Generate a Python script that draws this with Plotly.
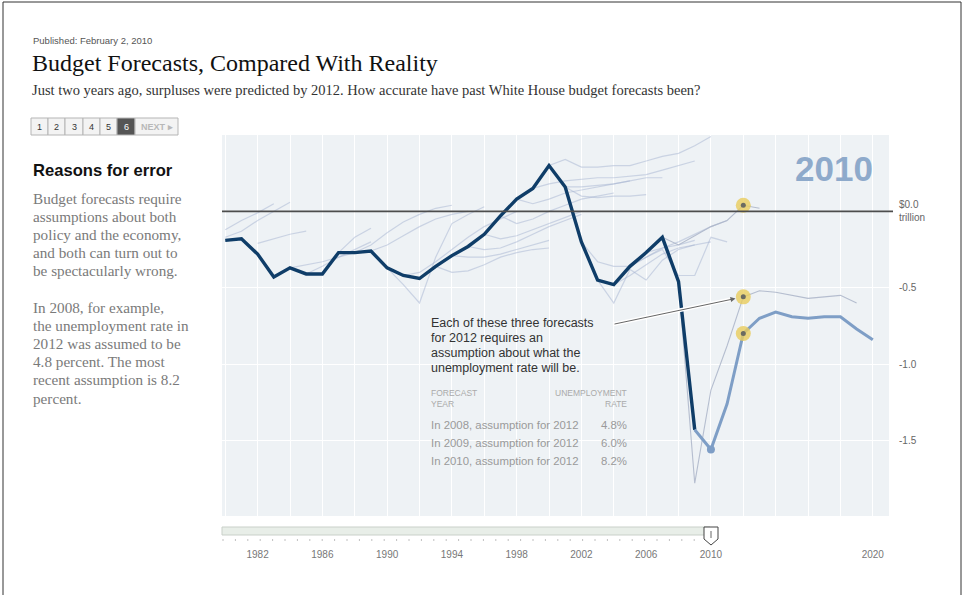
import plotly.graph_objects as go

# ---------------- data ----------------
actual_years = list(range(1980, 2010))
actual_values = [-0.19, -0.18, -0.28, -0.43, -0.37, -0.41, -0.41, -0.27, -0.27, -0.26,
                 -0.37, -0.42, -0.44, -0.36, -0.29, -0.23, -0.15, -0.03, 0.08, 0.15,
                 0.30, 0.16, -0.20, -0.45, -0.48, -0.36, -0.27, -0.17, -0.46, -1.43]

forecast_2010_years = list(range(2009, 2021))
forecast_2010_values = [-1.43, -1.56, -1.26, -0.80, -0.70, -0.66, -0.69, -0.70, -0.69, -0.69, -0.77, -0.84]

forecast_2009_years = list(range(2008, 2020))
forecast_2009_values = [-0.46, -1.78, -1.17, -0.88, -0.56, -0.52, -0.53, -0.55, -0.57, -0.56, -0.55, -0.60]

forecast_2008_years = list(range(2007, 2014))
forecast_2008_values = [-0.17, -0.22, -0.16, -0.10, -0.06, 0.04, 0.02]

# older forecasts: first year of each, then values year by year
past_forecast_starts = [1980, 1980, 1982, 1984, 1985, 1987, 1988, 1989, 1990, 1991,
                        1993, 1994, 1995, 1996, 1997, 1998, 1999, 2000, 2001, 2001,
                        2002, 2003, 2004, 2005, 2006]
past_forecast_values = [
    [-0.12, -0.06, -0.01, 0.05],
    [-0.17, -0.13, -0.06, 0.00, 0.06],
    [-0.21, -0.18, -0.15, -0.13],
    [-0.37, -0.35, -0.33, -0.30, -0.27],
    [-0.41, -0.36, -0.30, -0.25, -0.20],
    [-0.27, -0.17, -0.11],
    [-0.27, -0.22, -0.14, -0.07, -0.02, 0.02, 0.04],
    [-0.26, -0.22, -0.16, -0.10, -0.05, -0.02, 0.00],
    [-0.37, -0.48, -0.60, -0.30, -0.08, -0.02, 0.03],
    [-0.42, -0.40, -0.33, -0.25, -0.17, -0.10, -0.05, 0.00],
    [-0.36, -0.40, -0.39, -0.35, -0.30, -0.27, -0.25, -0.24],
    [-0.29, -0.30, -0.30, -0.28, -0.25, -0.22, -0.19],
    [-0.23, -0.25, -0.24, -0.20, -0.15, -0.10, -0.06, -0.02],
    [-0.15, -0.18, -0.16, -0.12, -0.08, -0.04, 0.00],
    [-0.03, -0.08, -0.05, 0.00, 0.04, 0.08, 0.10, 0.12],
    [0.08, 0.05, 0.08, 0.12, 0.14, 0.16, 0.18, 0.20],
    [0.15, 0.18, 0.20, 0.21, 0.22, 0.22, 0.23, 0.24, 0.27, 0.30, 0.33],
    [0.30, 0.34, 0.29, 0.29, 0.30, 0.30, 0.33, 0.36, 0.38, 0.43, 0.49],
    [0.16, 0.10, 0.09, 0.10, 0.10, 0.11],
    [0.16, 0.16, 0.17, 0.18, 0.20, 0.22, 0.22],
    [-0.20, -0.33, -0.36, -0.36, -0.30, -0.24, -0.22, -0.19],
    [-0.45, -0.60, -0.38, -0.45, -0.32, -0.25, -0.22],
    [-0.48, -0.42, -0.35, -0.28, -0.24, -0.22, -0.20],
    [-0.36, -0.30, -0.25, -0.42, -0.42, -0.17, -0.20],
    [-0.27, -0.24, -0.20, -0.15, -0.10, -0.06],
]

highlight_year = 2012
highlight_values = [0.04, -0.56, -0.80]

x_tick_years = [1982, 1986, 1990, 1994, 1998, 2002, 2006, 2010, 2020]
y_tick_values = [0.0, -0.5, -1.0, -1.5]
y_tick_labels = ["$0.0<br>trillion", "-0.5", "-1.0", "-1.5"]

table_rows = ["In 2008, assumption for 2012", "In 2009, assumption for 2012", "In 2010, assumption for 2012"]
table_rates = ["4.8%", "6.0%", "8.2%"]

# ---------------- layout helpers ----------------
W, H = 965, 595
L, R, T, B = 222, 76, 135, 79
PW, PH = W - L - R, H - T - B


def px(x):
    return (x - L) / PW


def py(y):
    return (H - B - y) / PH


SANS = "Liberation Sans, Arial, sans-serif"
SERIF = "Liberation Serif, Georgia, serif"

fig = go.Figure()

for start, vals in zip(past_forecast_starts, past_forecast_values):
    fig.add_trace(go.Scatter(x=list(range(start, start + len(vals))), y=vals, mode="lines",
                             line=dict(color="rgba(165,180,210,0.5)", width=1.2),
                             hoverinfo="skip", showlegend=False))

fig.add_trace(go.Scatter(x=forecast_2008_years, y=forecast_2008_values, mode="lines",
                         line=dict(color="rgba(170,180,200,0.85)", width=1.1),
                         hoverinfo="skip", showlegend=False))
fig.add_trace(go.Scatter(x=forecast_2009_years, y=forecast_2009_values, mode="lines",
                         line=dict(color="rgba(170,180,200,0.85)", width=1.1),
                         hoverinfo="skip", showlegend=False))

fig.add_trace(go.Scatter(x=actual_years, y=actual_values, mode="lines",
                         line=dict(color="#0f3d68", width=3.4),
                         hoverinfo="skip", showlegend=False))

fig.add_trace(go.Scatter(x=forecast_2010_years, y=forecast_2010_values, mode="lines",
                         line=dict(color="#7e9ec6", width=3),
                         hoverinfo="skip", showlegend=False))
fig.add_trace(go.Scatter(x=[forecast_2010_years[1]], y=[forecast_2010_values[1]], mode="markers",
                         marker=dict(color="#7e9ec6", size=8),
                         hoverinfo="skip", showlegend=False))

fig.add_trace(go.Scatter(x=[highlight_year] * 3, y=highlight_values, mode="markers",
                         marker=dict(color="rgba(232,204,92,0.8)", size=15),
                         hoverinfo="skip", showlegend=False))
fig.add_trace(go.Scatter(x=[highlight_year] * 3, y=highlight_values, mode="markers",
                         marker=dict(color="#6b6b62", size=5),
                         hoverinfo="skip", showlegend=False))

shapes = []
# zero line
shapes.append(dict(type="line", xref="paper", yref="y", x0=0, x1=px(893), y0=0, y1=0,
                   line=dict(color="#4d4d4d", width=1.6), layer="above"))
# white halo under arrow
shapes.append(dict(type="line", xref="x", yref="y", x0=2003.95, y0=-0.74, x1=2011.3, y1=-0.575,
                   line=dict(color="white", width=4), layer="above"))
# outer frame
shapes.append(dict(type="rect", xref="paper", yref="paper", x0=px(3), x1=px(961), y0=py(600), y1=py(2),
                   line=dict(color="#333", width=1)))

# pagination boxes
page_edges = [31, 48, 65, 83, 100, 117, 135, 178]
page_labels = ["1", "2", "3", "4", "5", "6", "NEXT \u25b8"]
for i, lab in enumerate(page_labels):
    x0, x1 = page_edges[i], page_edges[i + 1]
    active = lab == "6"
    shapes.append(dict(type="rect", xref="paper", yref="paper", x0=px(x0), x1=px(x1), y0=py(135), y1=py(118),
                       line=dict(color="#b5b5b5", width=1),
                       fillcolor="#555555" if active else "#f3f3f3"))

# slider track
shapes.append(dict(type="rect", xref="paper", yref="paper", x0=px(222), x1=px(710), y0=py(535), y1=py(527),
                   line=dict(color="#c9d0c9", width=1), fillcolor="#e8eee8"))
tx = 223.0
while tx < 705:
    shapes.append(dict(type="line", xref="paper", yref="paper", x0=px(tx), x1=px(tx), y0=py(541), y1=py(539),
                       line=dict(color="#c0c0c0", width=1)))
    tx += 12.4
# slider handle
hp = "M {a},{t} L {b},{t} L {b},{m} L {c},{bt} L {a},{m} Z".format(
    a=px(704), b=px(718), c=px(711), t=py(527), m=py(539), bt=py(545))
shapes.append(dict(type="path", xref="paper", yref="paper", path=hp,
                   line=dict(color="#444", width=1), fillcolor="white"))
shapes.append(dict(type="line", xref="paper", yref="paper", x0=px(711), x1=px(711), y0=py(538), y1=py(531),
                   line=dict(color="#666", width=1)))

ann = []


def text(x, y, s, size, color, font=SANS, xanchor="left", bold=False):
    if bold:
        s = "<b>" + s + "</b>"
    ann.append(dict(x=px(x), y=py(y), xref="paper", yref="paper", text=s, showarrow=False,
                    xanchor=xanchor, yanchor="middle", font=dict(family=font, size=size, color=color)))


text(31, 40, "Published: February 2, 2010", 9.5, "#555")
text(30, 63, "Budget Forecasts, Compared With Reality", 24, "#111", SERIF)
text(30, 90, "Just two years ago, surpluses were predicted by 2012. How accurate have past White House budget forecasts been?",
     14.5, "#333", SERIF)

for i, lab in enumerate(page_labels):
    x0, x1 = page_edges[i], page_edges[i + 1]
    active = lab == "6"
    color = "white" if active else ("#b8b8b8" if lab.startswith("NEXT") else "#333")
    text((x0 + x1) / 2, 127, lab, 9, color, xanchor="center", bold=lab.startswith("NEXT"))

text(31, 170, "Reasons for error", 16.6, "#111", bold=True)
para1 = ["Budget forecasts require", "assumptions about both", "policy and the economy,",
         "and both can turn out to", "be spectacularly wrong."]
para2 = ["In 2008, for example,", "the unemployment rate in", "2012 was assumed to be",
         "4.8 percent. The most", "recent assumption is 8.2", "percent."]
for i, s in enumerate(para1):
    text(31, 198 + i * 18.2, s, 15.2, "#7a7a7a", SERIF)
for i, s in enumerate(para2):
    text(31, 307 + i * 18.2, s, 15.2, "#7a7a7a", SERIF)

note = ["Each of these three forecasts", "for 2012 requires an", "assumption about what the",
        "unemployment rate will be."]
for i, s in enumerate(note):
    text(429, 323 + i * 15, s, 12.5, "#333")
text(429, 393, "FORECAST", 8.5, "#aaa")
text(429, 404, "YEAR", 8.5, "#aaa")
text(629, 393, "UNEMPLOYMENT", 8.5, "#aaa", xanchor="right")
text(629, 404, "RATE", 8.5, "#aaa", xanchor="right")
for i, (row, rate) in enumerate(zip(table_rows, table_rates)):
    text(429, 425 + i * 18, row, 11.4, "#9a9a9a")
    text(629, 425 + i * 18, rate, 11.4, "#9a9a9a", xanchor="right")

text(875, 168, "2010", 35, "#8eaacb", xanchor="right", bold=True)

ann.append(dict(x=highlight_year, y=highlight_values[1], ax=2003.95, ay=-0.74, xref="x", yref="y",
                axref="x", ayref="y", text="", showarrow=True, arrowhead=2, arrowsize=1,
                arrowwidth=1, arrowcolor="#666", standoff=8))

fig.update_layout(
    width=W, height=H, autosize=False,
    margin=dict(l=L, r=R, t=T, b=B, pad=0),
    paper_bgcolor="white", plot_bgcolor="#eef2f5",
    showlegend=False,
    xaxis=dict(range=[1979.8, 2021.0], tickvals=x_tick_years, ticktext=[str(v) for v in x_tick_years],
               showgrid=True, gridcolor="white", gridwidth=1, zeroline=False, showline=False,
               ticks="", ticklabelstandoff=31, tickfont=dict(family=SANS, size=10, color="#777"),
               minor=dict(dtick=2, tick0=1980, showgrid=True, gridcolor="white", gridwidth=1),
               fixedrange=True),
    yaxis=dict(range=[-1.995, 0.5], side="right", tickvals=y_tick_values, ticktext=y_tick_labels,
               showgrid=True, gridcolor="white", gridwidth=1, zeroline=False, showline=False,
               ticks="", ticklabelstandoff=9, tickfont=dict(family=SANS, size=10, color="#666"),
               fixedrange=True),
    shapes=shapes, annotations=ann,
)

fig.write_html("out.html", config={"displayModeBar": False},
               post_script="document.body.style.margin='0';document.body.style.overflow='hidden';")
